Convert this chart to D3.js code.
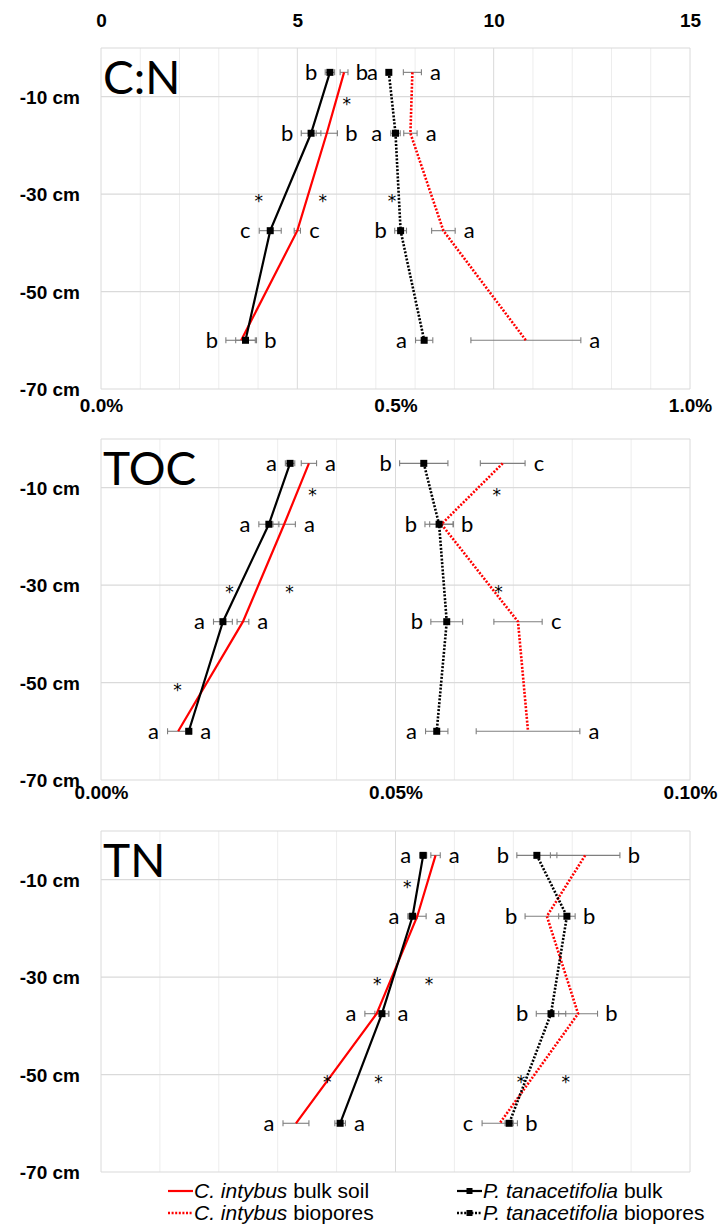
<!DOCTYPE html>
<html>
<head>
<meta charset="utf-8">
<script src="https://cdn.jsdelivr.net/npm/d3@7"></script>
<style>
  body { margin: 0; background: #fff; }
  svg { display: block; }
</style>
</head>
<body>
<svg id="chart" width="721" height="1230"></svg>
<script>
// depths (cm) of the sampled layers and the labelled depth gridlines
const depths = [-5, -17.5, -37.5, -60];
const depthTicks = [-10, -30, -50, -70];

// C:N ratio
const cnIntBulk = [6.19, 5.75, 5.00, 3.57];
const cnIntBulkSE = [0.10, 0.27, 0.08, 0.39];
const cnTanBulk = [5.83, 5.35, 4.31, 3.68];
const cnTanBulkSE = [0.12, 0.25, 0.28, 0.25];
const cnIntBio = [7.93, 7.88, 8.72, 10.82];
const cnIntBioSE = [0.23, 0.17, 0.30, 1.40];
const cnTanBio = [7.33, 7.50, 7.63, 8.23];
const cnTanBioSE = [0.06, 0.12, 0.15, 0.22];
const cnBulkLettersL = ['b', 'b', 'c', 'b'];
const cnBulkLettersR = ['b', 'b', 'c', 'b'];
const cnBioLettersL = ['a', 'a', 'b', 'a'];
const cnBioLettersR = ['a', 'a', 'a', 'a'];
const cnStarDepths = [-10, -30, -30, -30];
const cnStarValues = [6.26, 4.02, 5.65, 7.41];

// TOC (%)
const tocIntBulk = [0.353, 0.311, 0.241, 0.131];
const tocIntBulkSE = [0.013, 0.019, 0.010, 0.018];
const tocTanBulk = [0.321, 0.285, 0.207, 0.149];
const tocTanBulkSE = [0.008, 0.017, 0.016, 0.005];
const tocIntBio = [0.682, 0.578, 0.708, 0.725];
const tocIntBioSE = [0.038, 0.020, 0.041, 0.088];
const tocTanBio = [0.548, 0.574, 0.587, 0.570];
const tocTanBioSE = [0.041, 0.024, 0.027, 0.019];
const tocBulkLettersL = ['a', 'a', 'a', 'a'];
const tocBulkLettersR = ['a', 'a', 'a', 'a'];
const tocBioLettersL = ['b', 'b', 'b', 'a'];
const tocBioLettersR = ['c', 'b', 'c', 'a'];
const tocStarDepths = [-10, -30, -30, -50, -10, -30];
const tocStarValues = [0.359, 0.218, 0.320, 0.130, 0.672, 0.675];

// TN (%)
const tnIntBulk = [0.0568, 0.0537, 0.0468, 0.0331];
const tnIntBulkSE = [0.0008, 0.0015, 0.0020, 0.0022];
const tnTanBulk = [0.0547, 0.0529, 0.0477, 0.0406];
const tnTanBulkSE = [0.0006, 0.0008, 0.0012, 0.0009];
const tnIntBio = [0.0822, 0.0757, 0.0810, 0.0677];
const tnIntBioSE = [0.0059, 0.0037, 0.0033, 0.0030];
const tnTanBio = [0.0740, 0.0791, 0.0764, 0.0693];
const tnTanBioSE = [0.0034, 0.0014, 0.0025, 0.0007];
const tnBulkLettersL = ['a', 'a', 'a', 'a'];
const tnBulkLettersR = ['a', 'a', 'a', 'a'];
const tnBioLettersL = ['b', 'b', 'b', 'c'];
const tnBioLettersR = ['b', 'b', 'b', 'b'];
const tnStarDepths = [-10, -30, -30, -50, -50, -50, -50];
const tnStarValues = [0.0520, 0.0469, 0.0557, 0.0384, 0.0471, 0.0713, 0.0789];

const legendLabels = [
  ['C. intybus', ' bulk soil'],
  ['C. intybus', ' biopores'],
  ['P. tanacetifolia', ' bulk'],
  ['P. tanacetifolia', ' biopores']
];

const panels = [
  {
    title: 'C:N', top: 48, labelY: 20, domain: [0, 15], step: 1,
    ticks: [0, 5, 10, 15], fmt: d3.format('d'),
    intBulk: cnIntBulk, intBulkSE: cnIntBulkSE, tanBulk: cnTanBulk, tanBulkSE: cnTanBulkSE,
    intBio: cnIntBio, intBioSE: cnIntBioSE, tanBio: cnTanBio, tanBioSE: cnTanBioSE,
    bulkL: cnBulkLettersL, bulkR: cnBulkLettersR, bioL: cnBioLettersL, bioR: cnBioLettersR,
    starD: cnStarDepths, starV: cnStarValues
  },
  {
    title: 'TOC', top: 439, labelY: 405, domain: [0, 1], step: 0.1,
    ticks: [0, 0.5, 1], fmt: d => d3.format('.1f')(d) + '%',
    intBulk: tocIntBulk, intBulkSE: tocIntBulkSE, tanBulk: tocTanBulk, tanBulkSE: tocTanBulkSE,
    intBio: tocIntBio, intBioSE: tocIntBioSE, tanBio: tocTanBio, tanBioSE: tocTanBioSE,
    bulkL: tocBulkLettersL, bulkR: tocBulkLettersR, bioL: tocBioLettersL, bioR: tocBioLettersR,
    starD: tocStarDepths, starV: tocStarValues
  },
  {
    title: 'TN', top: 831, labelY: 792, domain: [0, 0.1], step: 0.01,
    ticks: [0, 0.05, 0.1], fmt: d => d3.format('.2f')(d) + '%',
    intBulk: tnIntBulk, intBulkSE: tnIntBulkSE, tanBulk: tnTanBulk, tanBulkSE: tnTanBulkSE,
    intBio: tnIntBio, intBioSE: tnIntBioSE, tanBio: tnTanBio, tanBioSE: tnTanBioSE,
    bulkL: tnBulkLettersL, bulkR: tnBulkLettersR, bioL: tnBioLettersL, bioR: tnBioLettersR,
    starD: tnStarDepths, starV: tnStarValues
  }
];

const svg = d3.select('#chart');
const left = 101, right = 690, plotH = 341;
const axisFont = '"Liberation Sans", Arial, sans-serif';
const markFont = 'Lato, "Open Sans", sans-serif';

panels.forEach(p => {
  const x = d3.scaleLinear().domain(p.domain).range([left, right]);
  const y = d3.scaleLinear().domain([0, -70]).range([p.top, p.top + plotH]);
  const g = svg.append('g');

  // grid
  const nSteps = Math.round((p.domain[1] - p.domain[0]) / p.step);
  const majorEvery = Math.round(nSteps / (p.ticks.length - 1));
  const vx = d3.range(nSteps + 1).map(i => p.domain[0] + i * p.step);
  g.selectAll('line.vg').data(vx).enter().append('line')
    .attr('x1', d => x(d)).attr('x2', d => x(d))
    .attr('y1', y(0)).attr('y2', y(-70))
    .attr('stroke', (d, i) => i % majorEvery === 0 ? '#dadada' : '#ededed')
    .attr('stroke-width', 1);
  g.selectAll('line.hg').data([0].concat(depthTicks)).enter().append('line')
    .attr('x1', left).attr('x2', right)
    .attr('y1', d => y(d)).attr('y2', d => y(d))
    .attr('stroke', '#dadada').attr('stroke-width', 1.2);

  // axes
  const ya = g.append('g').attr('transform', `translate(${left - 18},0)`)
    .call(d3.axisLeft(y).tickValues(depthTicks).tickSize(0).tickFormat(d => d + ' cm'));
  ya.select('.domain').remove();
  ya.selectAll('text').attr('font-family', axisFont).attr('font-weight', 'bold')
    .attr('font-size', 19).attr('fill', '#000').attr('dy', '0.35em');

  const xa = g.append('g').attr('transform', `translate(0,${p.labelY})`)
    .call(d3.axisTop(x).tickValues(p.ticks).tickSize(0).tickFormat(p.fmt));
  xa.select('.domain').remove();
  xa.selectAll('text').attr('font-family', axisFont).attr('font-weight', 'bold')
    .attr('font-size', 19).attr('fill', '#000').attr('y', 0).attr('dy', '0.35em');

  // title
  g.append('text').attr('x', left + 2).attr('y', p.top + 46)
    .attr('font-family', markFont).attr('font-size', 46).text(p.title);

  const series = [
    { v: p.intBulk, se: p.intBulkSE, color: '#ff0000', dash: null, sq: false },
    { v: p.tanBulk, se: p.tanBulkSE, color: '#000', dash: null, sq: true },
    { v: p.intBio, se: p.intBioSE, color: '#ff0000', dash: '2,1.6', sq: false },
    { v: p.tanBio, se: p.tanBioSE, color: '#000', dash: '2,1.6', sq: true }
  ];

  // error bars
  series.forEach(s => {
    const eb = g.append('g').attr('stroke', '#7f7f7f').attr('stroke-width', 1.1);
    depths.forEach((dep, i) => {
      const x0 = x(s.v[i] - s.se[i]), x1 = x(s.v[i] + s.se[i]), yy = y(dep);
      eb.append('line').attr('x1', x0).attr('x2', x1).attr('y1', yy).attr('y2', yy);
      eb.append('line').attr('x1', x0).attr('x2', x0).attr('y1', yy - 3).attr('y2', yy + 3);
      eb.append('line').attr('x1', x1).attr('x2', x1).attr('y1', yy - 3).attr('y2', yy + 3);
    });
  });

  // lines
  const line = d3.line().x(d => x(d[0])).y(d => y(d[1]));
  series.forEach(s => {
    g.append('path').datum(s.v.map((v, i) => [v, depths[i]]))
      .attr('d', line).attr('fill', 'none').attr('stroke', s.color)
      .attr('stroke-width', s.dash ? 2.6 : 2.2)
      .attr('stroke-dasharray', s.dash);
  });

  // markers
  series.filter(s => s.sq).forEach(s => {
    g.selectAll(null).data(s.v).enter().append('rect')
      .attr('x', d => x(d) - 3.5).attr('y', (d, i) => y(depths[i]) - 3.5)
      .attr('width', 7).attr('height', 7).attr('fill', '#000');
  });

  // significance letters, placed beside the outer error bar ends
  const addLetters = (a, b, lettersL, lettersR) => {
    depths.forEach((dep, i) => {
      const lo = Math.min(a.v[i] - a.se[i], b.v[i] - b.se[i]);
      const hi = Math.max(a.v[i] + a.se[i], b.v[i] + b.se[i]);
      g.append('text').attr('x', x(lo) - 14).attr('y', y(dep)).attr('dy', '0.33em')
        .attr('text-anchor', 'middle').attr('font-family', markFont).attr('font-size', 22)
        .text(lettersL[i]);
      g.append('text').attr('x', x(hi) + 14).attr('y', y(dep)).attr('dy', '0.33em')
        .attr('text-anchor', 'middle').attr('font-family', markFont).attr('font-size', 22)
        .text(lettersR[i]);
    });
  };
  addLetters(series[0], series[1], p.bulkL, p.bulkR);
  addLetters(series[2], series[3], p.bioL, p.bioR);

  // asterisks
  g.selectAll(null).data(p.starV).enter().append('text')
    .attr('x', d => x(d)).attr('y', (d, i) => y(p.starD[i]) + 13)
    .attr('text-anchor', 'middle').attr('font-family', '"DejaVu Sans", sans-serif')
    .attr('font-size', 17).attr('fill', '#000')
    .text('*');
});

// legend
const legend = svg.append('g').attr('font-family', '"Liberation Sans", Arial, sans-serif').attr('font-size', 21);
const legendItems = [
  { x: 168, y: 1191, color: '#ff0000', dash: null, sq: false, label: legendLabels[0] },
  { x: 168, y: 1213, color: '#ff0000', dash: '2,1.6', sq: false, label: legendLabels[1] },
  { x: 457, y: 1191, color: '#000', dash: null, sq: true, label: legendLabels[2] },
  { x: 457, y: 1213, color: '#000', dash: '2,1.6', sq: true, label: legendLabels[3] }
];
legendItems.forEach(it => {
  const w = 25;
  legend.append('line').attr('x1', it.x).attr('x2', it.x + w).attr('y1', it.y).attr('y2', it.y)
    .attr('stroke', it.color).attr('stroke-width', it.dash ? 2.4 : 2.2).attr('stroke-dasharray', it.dash);
  if (it.sq) {
    legend.append('rect').attr('x', it.x + w / 2 - 3).attr('y', it.y - 3)
      .attr('width', 6).attr('height', 6).attr('fill', '#000');
  }
  const t = legend.append('text').attr('x', it.x + w + 1).attr('y', it.y).attr('dy', '0.35em');
  t.append('tspan').attr('font-style', 'italic').text(it.label[0]);
  t.append('tspan').text(it.label[1]);
});
</script>
</body>
</html>
